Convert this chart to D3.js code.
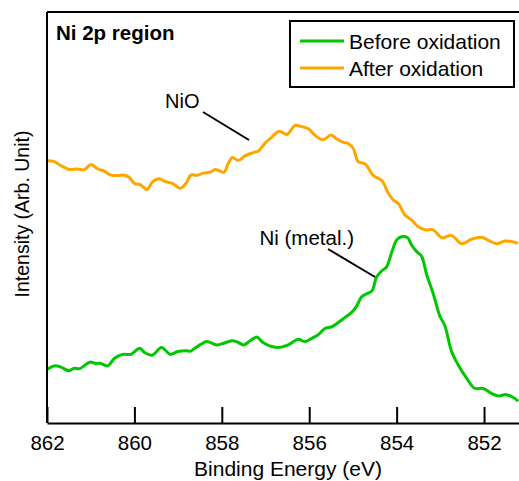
<!DOCTYPE html>
<html>
<head>
<meta charset="utf-8">
<script src="https://cdn.jsdelivr.net/npm/d3@7"></script>
<style>
  body { margin: 0; background: #fff; }
  text { font-family: "Liberation Sans", Arial, sans-serif; fill: #000; }
</style>
</head>
<body>
<script>
// Ni 2p XPS spectra, before / after oxidation

// binding energy (eV) and intensity (arb.)
var energyAfter = [861.99, 861.83, 861.68, 861.49, 861.30, 861.15, 860.99, 860.84, 860.69, 860.54,
  860.39, 860.23, 860.12, 860.00, 859.85, 859.71, 859.59, 859.43, 859.28, 859.13,
  858.95, 858.82, 858.71, 858.56, 858.42, 858.27, 858.15, 858.04, 857.95, 857.85,
  857.76, 857.62, 857.47, 857.28, 857.16, 857.01, 856.86, 856.69, 856.51, 856.32,
  856.17, 856.02, 855.87, 855.68, 855.50, 855.37, 855.22, 855.11, 854.99, 854.88,
  854.72, 854.53, 854.34, 854.19, 854.08, 853.96, 853.81, 853.66, 853.51, 853.35,
  853.16, 852.97, 852.74, 852.51, 852.29, 852.06, 851.91, 851.71, 851.52, 851.22];
var intensityAfter = [63.8, 63.6, 62.6, 61.7, 61.8, 61.6, 62.9, 61.8, 61.3, 60.3,
  60.2, 60.3, 59.8, 58.3, 57.9, 56.8, 58.6, 59.4, 58.7, 58.3,
  57.1, 58.3, 60.3, 60.3, 60.8, 61.0, 61.7, 61.3, 61.0, 63.2,
  64.6, 63.9, 65.0, 65.8, 66.2, 68.1, 69.5, 71.0, 70.2, 72.4,
  72.1, 71.6, 70.0, 68.9, 70.1, 69.1, 68.3, 68.0, 66.8, 63.6,
  63.0, 60.2, 59.0, 55.9, 54.3, 53.4, 50.6, 49.4, 47.8, 47.0,
  47.0, 45.1, 45.6, 43.6, 44.7, 45.2, 44.5, 43.6, 44.3, 43.7];

var energyBefore = [861.99, 861.83, 861.68, 861.50, 861.38, 861.26, 861.02, 860.88, 860.77, 860.61,
  860.46, 860.27, 860.08, 859.88, 859.76, 859.59, 859.38, 859.18, 859.01, 858.82,
  858.71, 858.59, 858.42, 858.34, 858.11, 857.96, 857.77, 857.66, 857.50, 857.35,
  857.20, 857.05, 856.86, 856.67, 856.48, 856.25, 856.10, 855.94, 855.79, 855.64,
  855.49, 855.33, 855.18, 855.03, 854.91, 854.80, 854.65, 854.56, 854.46, 854.34,
  854.23, 854.11, 854.00, 853.89, 853.75, 853.66, 853.54, 853.43, 853.31, 853.16,
  853.01, 852.90, 852.74, 852.59, 852.40, 852.21, 852.02, 851.83, 851.68, 851.49,
  851.33, 851.22];
var intensityBefore = [13.1, 13.9, 13.6, 12.7, 13.3, 13.2, 14.8, 14.5, 14.5, 13.9,
  15.7, 16.7, 16.7, 18.2, 17.1, 16.5, 18.4, 16.7, 17.4, 17.6,
  17.5, 18.4, 19.5, 19.8, 19.0, 19.4, 20.0, 19.8, 19.0, 20.0,
  20.9, 19.5, 18.6, 18.4, 19.0, 20.4, 19.8, 20.6, 21.5, 23.0,
  23.4, 24.5, 25.7, 26.9, 28.5, 30.7, 31.6, 32.2, 35.5, 37.0,
  38.0, 41.6, 44.5, 45.3, 45.1, 43.3, 41.7, 40.6, 36.0, 31.4,
  26.0, 23.8, 17.3, 14.1, 10.9, 8.4, 8.4, 7.2, 6.6, 6.9,
  6.2, 5.3];

var seriesNames = ["Before oxidation", "After oxidation"];
var seriesColors = ["#00c800", "#ffa500"];
var tickValues = [862, 860, 858, 856, 854, 852];

var width = 519, height = 481;
var margin = {top: 12, right: 0, bottom: 58, left: 47};

var xScale = d3.scaleLinear().domain([862, 851.2]).range([margin.left, width]);
var yScale = d3.scaleLinear().domain([0, 100]).range([height - margin.bottom, margin.top]);

var svg = d3.select("body").append("svg")
    .attr("width", width)
    .attr("height", height);

var line = d3.line()
    .x(function(d) { return xScale(d[0]); })
    .y(function(d) { return yScale(d[1]); })
    .curve(d3.curveCatmullRom.alpha(0.5));

var before = energyBefore.map(function(e, i) { return [e, intensityBefore[i]]; });
var after = energyAfter.map(function(e, i) { return [e, intensityAfter[i]]; });

svg.append("path")
    .datum(after)
    .attr("d", line)
    .attr("fill", "none")
    .attr("stroke", seriesColors[1])
    .attr("stroke-width", 3)
    .attr("stroke-linejoin", "round");

svg.append("path")
    .datum(before)
    .attr("d", line)
    .attr("fill", "none")
    .attr("stroke", seriesColors[0])
    .attr("stroke-width", 3)
    .attr("stroke-linejoin", "round");

// frame: left and top lines
svg.append("line")
    .attr("x1", margin.left).attr("x2", margin.left)
    .attr("y1", margin.top).attr("y2", height - margin.bottom)
    .attr("stroke", "#000").attr("stroke-width", 2);
svg.append("line")
    .attr("x1", margin.left).attr("x2", width)
    .attr("y1", margin.top).attr("y2", margin.top)
    .attr("stroke", "#000").attr("stroke-width", 2);

// x axis, ticks pointing inward
var xAxis = d3.axisBottom(xScale)
    .tickValues(tickValues)
    .tickSizeInner(-16)
    .tickSizeOuter(0)
    .tickPadding(12)
    .tickFormat(d3.format("d"));

var gx = svg.append("g")
    .attr("transform", "translate(0," + (height - margin.bottom) + ")")
    .call(xAxis);
gx.select(".domain").attr("stroke", "#000").attr("stroke-width", 2);
gx.selectAll(".tick line").attr("stroke", "#000").attr("stroke-width", 2);
gx.selectAll(".tick text")
    .style("font-family", "'Liberation Sans', Arial, sans-serif")
    .style("font-size", "20.5px")
    .attr("fill", "#000");

// axis titles
svg.append("text")
    .attr("x", 288)
    .attr("y", 475.5)
    .attr("text-anchor", "middle")
    .style("font-size", "21px")
    .text("Binding Energy (eV)");

svg.append("text")
    .attr("transform", "translate(28.5,214) rotate(-90)")
    .attr("text-anchor", "middle")
    .style("font-size", "19.5px")
    .text("Intensity (Arb. Unit)");

// panel title
svg.append("text")
    .attr("x", 56)
    .attr("y", 40)
    .style("font-size", "20.5px")
    .style("font-weight", "bold")
    .text("Ni 2p region");

// annotations
svg.append("line")
    .attr("x1", 203).attr("y1", 112).attr("x2", 249).attr("y2", 140)
    .attr("stroke", "#000").attr("stroke-width", 2);
svg.append("text")
    .attr("x", 165).attr("y", 108)
    .style("font-size", "20px")
    .text("NiO");

svg.append("line")
    .attr("x1", 328).attr("y1", 249).attr("x2", 375).attr("y2", 277)
    .attr("stroke", "#000").attr("stroke-width", 2);
svg.append("text")
    .attr("x", 354).attr("y", 245)
    .attr("text-anchor", "end")
    .style("font-size", "20.5px")
    .text("Ni (metal.)");

// legend
var legend = svg.append("g");
legend.append("rect")
    .attr("x", 290).attr("y", 21)
    .attr("width", 224).attr("height", 66)
    .attr("fill", "#fff")
    .attr("stroke", "#000")
    .attr("stroke-width", 2);

var legendItems = legend.selectAll(".item")
    .data(seriesNames)
    .enter().append("g")
    .attr("class", "item")
    .attr("transform", function(d, i) { return "translate(0," + (41 + i * 27) + ")"; });
legendItems.append("line")
    .attr("x1", 300).attr("x2", 344)
    .attr("stroke", function(d, i) { return seriesColors[i]; })
    .attr("stroke-width", 3);
legendItems.append("text")
    .attr("x", 349)
    .attr("y", 7.5)
    .style("font-size", "21px")
    .text(function(d) { return d; });
</script>
</body>
</html>
